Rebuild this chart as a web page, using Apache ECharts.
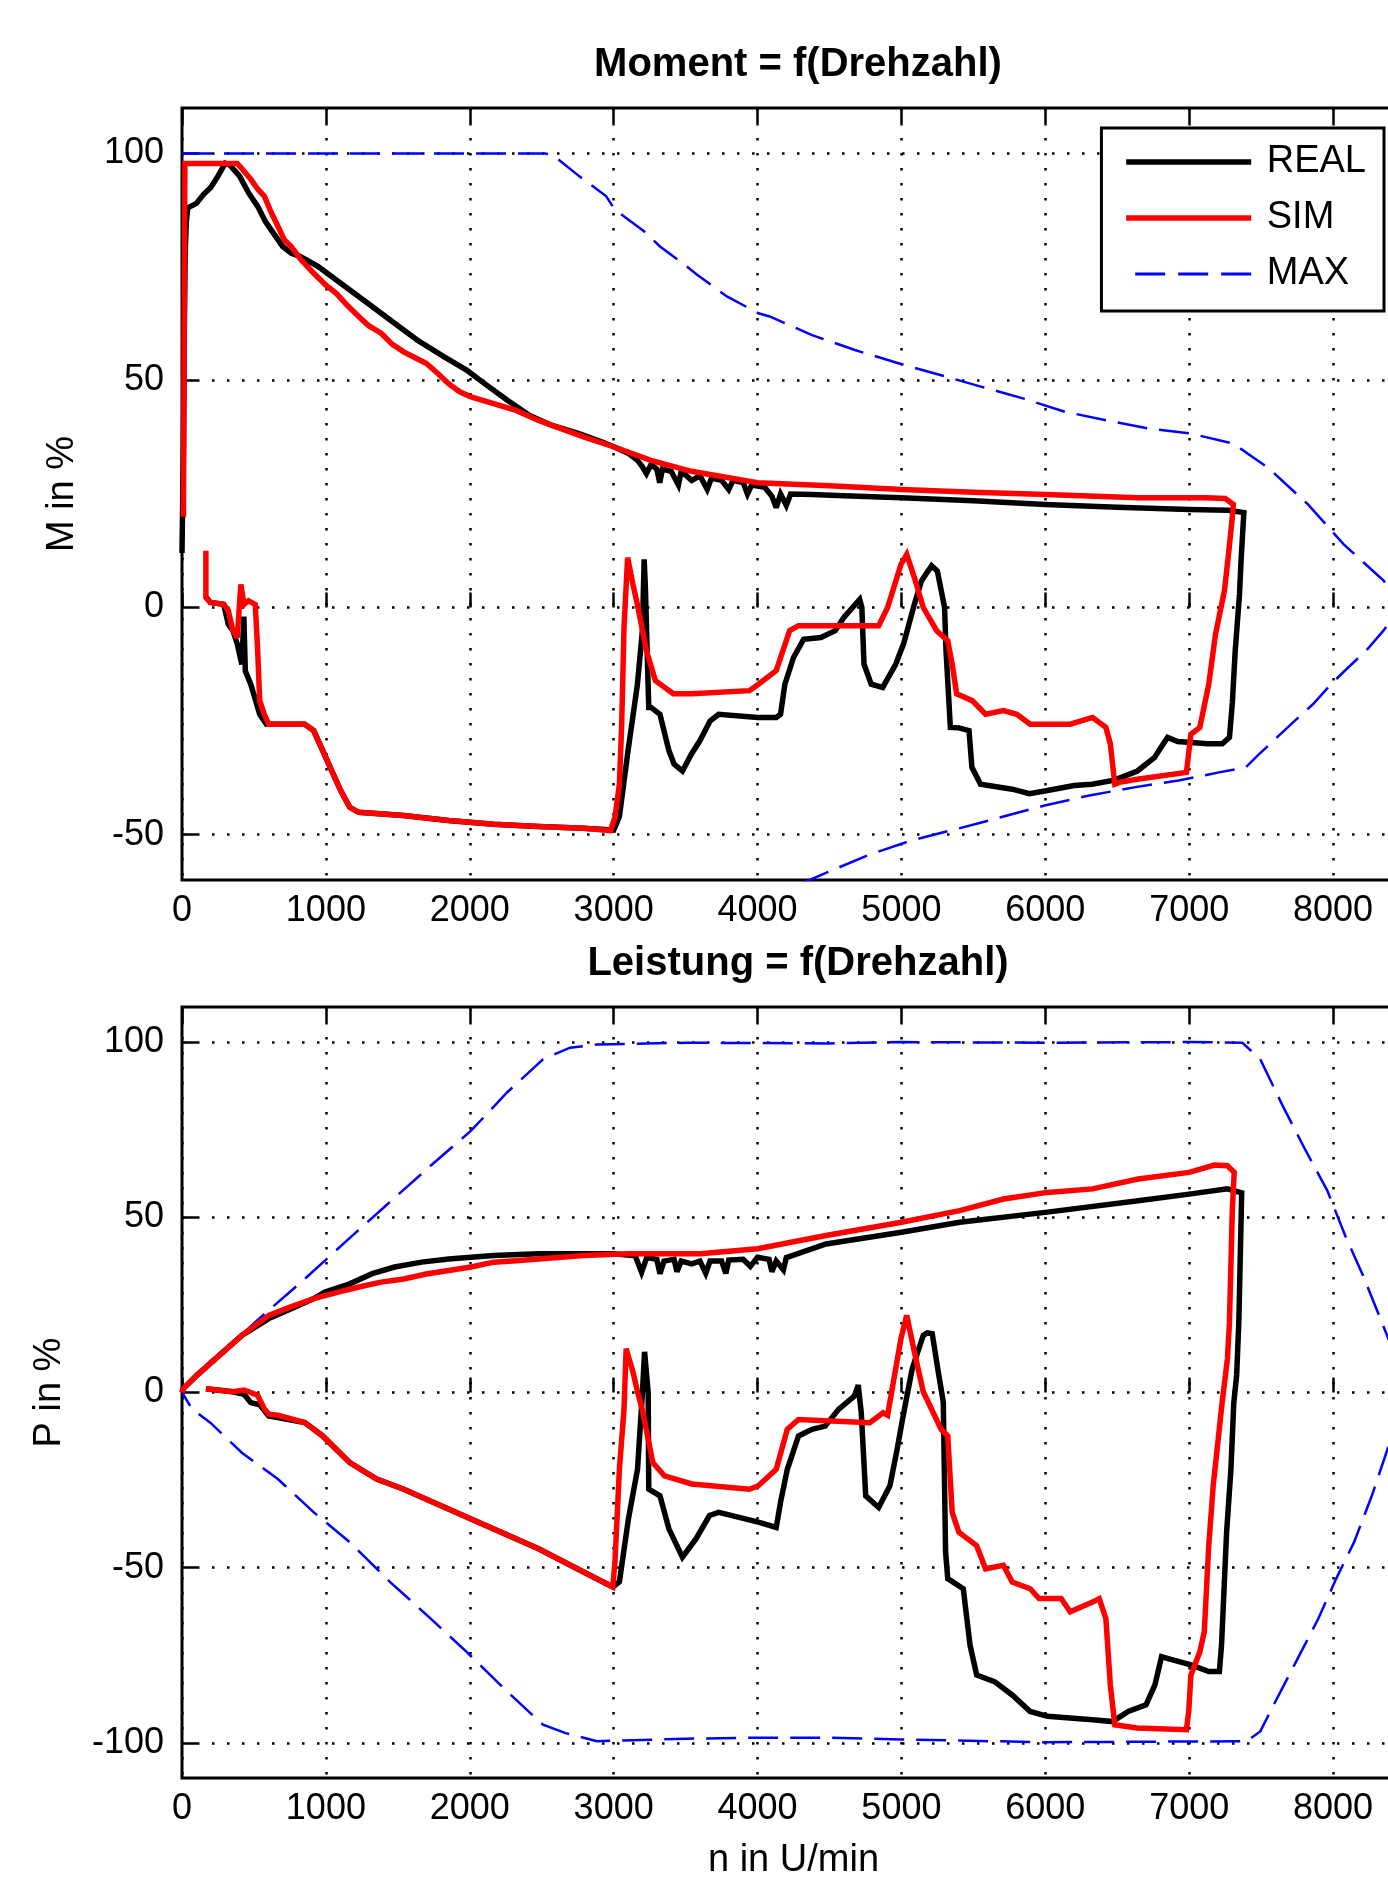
<!DOCTYPE html>
<html>
<head>
<meta charset="utf-8">
<script src="https://cdn.jsdelivr.net/npm/echarts@6/dist/echarts.min.js"></script>
<style>
html,body{margin:0;padding:0;background:#fff;overflow:hidden;}
#chart{width:1500px;height:1882px;}
</style>
</head>
<body>
<div id="chart"></div>
<script>
// ---- axis ticks / labels ----
const xTicks = [0, 1000, 2000, 3000, 4000, 5000, 6000, 7000, 8000];
const momentTicks = [-50, 0, 50, 100];
const powerTicks = [-100, -50, 0, 50, 100];
const seriesNames = ['REAL', 'SIM', 'MAX'];

// ---- Moment = f(Drehzahl) : [n, M%] ----
const momentReal = [[0,12],[10,35],[15,57],[22,78],[30,85],[40,88],[100,89],[150,91],[200,92.5],[250,95],[300,97.8],[330,97.5],[400,95],[463,91.3],[525,88.4],[580,85],[634,82.5],[700,79.5],[760,78],[822,77.3],[947,75.1],[1103,71.4],[1291,67.0],[1447,63.3],[1634,58.9],[1822,55.2],[1978,52.3],[2103,49.3],[2259,45.7],[2416,42.3],[2572,40.1],[2759,38.3],[2916,36.5],[3009,35.3],[3100,34],[3166,32.4],[3200,31],[3228,29.5],[3260,31.5],[3300,30.5],[3320,27.5],[3340,30.5],[3400,30],[3450,27],[3470,30],[3542,28],[3600,29],[3650,26],[3680,28.5],[3750,28],[3800,26],[3830,28],[3900,27.5],[3930,25],[3960,27],[4050,26.5],[4100,24.5],[4130,22],[4160,25],[4200,22.5],[4230,25],[4378,24.9],[4600,24.6],[5000,24.2],[5500,23.5],[6000,22.7],[6500,22.1],[7000,21.6],[7270,21.4],[7380,20.9],[7360,10],[7350,3],[7320,-9.5],[7300,-21],[7280,-28.6],[7230,-30],[7130,-30],[6920,-29.5],[6850,-28.6],[6800,-31],[6760,-33],[6640,-36],[6480,-38],[6325,-38.9],[6200,-39.2],[6015,-40.3],[5890,-41],[5770,-40],[5550,-38.9],[5490,-35.2],[5470,-27.1],[5400,-26.5],[5340,-26.4],[5320,-15],[5310,-9.5],[5300,0],[5250,8],[5210,9.2],[5140,5.9],[5090,0.7],[5015,-8],[4960,-12.5],[4870,-17.6],[4790,-16.9],[4740,-12.5],[4725,0],[4710,1.8],[4600,-2.2],[4540,-5.1],[4440,-6.6],[4320,-7],[4250,-11],[4190,-16.9],[4160,-23.5],[4130,-24.2],[4000,-24.2],[3730,-23.5],[3670,-25],[3600,-29.3],[3540,-32.3],[3478,-36],[3420,-34.5],[3384,-31.5],[3322,-23.5],[3260,-22],[3244,-22],[3220,5],[3212,10.6],[3200,-5],[3165,-17],[3100,-31.5],[3040,-46],[3000,-49],[2790,-48.6],[2478,-48.2],[2165,-47.7],[1853,-46.9],[1540,-45.8],[1228,-45.1],[1166,-44],[1103,-40.3],[1040,-35.9],[978,-31.5],[915,-27.1],[853,-25.7],[603,-25.7],[587,-25.7],[540,-23.5],[478,-16.9],[440,-14],[430,-2],[416,-12.5],[384,-8],[353,-5],[322,-3.7],[290,0.7],[197,1.1],[170,2.2]];

const momentSim = [[10,20],[15,60],[20,97.8],[100,97.8],[200,97.8],[300,97.8],[384,97.8],[420,96.5],[478,94.3],[530,92],[572,90.6],[620,87],[666,84],[710,81],[759,79.5],[830,76.5],[916,73.6],[1000,71],[1072,69.2],[1150,66.5],[1228,64.1],[1300,62],[1384,60.4],[1460,58],[1541,56.3],[1620,55],[1697,53.8],[1780,51.5],[1853,49.3],[1930,47.5],[2009,46.4],[2166,44.9],[2322,43.4],[2478,41.2],[2634,39.4],[2791,37.6],[3009,35.3],[3259,32.4],[3540,30],[4000,27.5],[4500,26.8],[5000,26],[5500,25.4],[6008,24.9],[6643,24.2],[7106,24.2],[7250,24],[7307,22.7],[7300,20],[7276,12.5],[7245,3.7],[7183,-5.9],[7136,-16.9],[7074,-26.4],[7012,-27.9],[6981,-36.3],[6638,-37.8],[6514,-38.5],[6483,-38.9],[6452,-30],[6421,-26.4],[6328,-24.2],[6173,-25.7],[5895,-25.7],[5802,-23.5],[5709,-22.7],[5585,-23.5],[5492,-20.5],[5384,-19],[5353,-12.5],[5322,-7.3],[5245,-5.1],[5152,0],[5090,6.6],[5037,11.7],[4997,9.5],[4904,0],[4842,-4],[4285,-4],[4223,-5.1],[4130,-13.9],[4006,-16.9],[3944,-18.3],[3542,-19],[3415,-19],[3290,-16.1],[3228,-9.5],[3165,0.7],[3134,5.1],[3097,11],[3072,-4.4],[3056,-25.7],[3040,-38.9],[3009,-46.2],[2978,-49.1],[2790,-48.6],[2478,-48.2],[2165,-47.7],[1853,-46.9],[1540,-45.8],[1228,-45.1],[1166,-44],[1103,-40.3],[1040,-35.9],[978,-31.5],[915,-27.1],[853,-25.7],[603,-25.7],[572,-23.5],[540,-20.5],[525,-8.8],[509,0.7],[462,1.5],[431,0.7],[409,5.1],[384,-6.6],[353,-5],[322,-0.7],[290,0.7],[197,1.1],[166,2.2],[166,12.5]];

const momentMax = [[0,100],[2525,100],[2587,99.4],[2760,95],[2947,90.6],[3009,87.6],[3213,82.8],[3322,79.5],[3509,75.1],[3580,73.3],[3787,68.5],[4006,64.8],[4084,64.1],[4379,60],[4677,56.7],[4979,53.8],[5270,51.2],[5558,48.6],[5850,46],[6138,43.1],[6430,41.2],[6718,39.4],[7013,38.3],[7306,36.1],[7548,30.8],[7826,22.7],[8074,13.9],[8353,5.9],[8470,0],[8350,-5.1],[8230,-9.5],[8105,-13.2],[7985,-16.9],[7860,-21.3],[7735,-24.9],[7610,-28.6],[7486,-32.3],[7393,-35.2],[7207,-36.3],[6926,-38.1],[6616,-39.6],[6305,-41.4],[5995,-43.6],[5690,-46.2],[5380,-48.8],[5068,-51.3],[4762,-54.6],[4375,-59.8],[4000,-64.8],[3500,-75],[3000,-87.6],[2587,-99.4],[2525,-100],[0,-100]];

// ---- Leistung = f(Drehzahl) : [n, P%] ----
const powerReal = [[0,0],[9,1.1],[103,4.9],[259,10.6],[416,16.3],[603,21.1],[759,23.9],[916,26.8],[994,28.7],[1166,31],[1322,33.9],[1478,35.8],[1666,37.2],[1853,38.1],[2009,38.6],[2166,39.1],[2478,39.6],[3000,39.6],[3150,39],[3194,34.3],[3230,38.5],[3300,38],[3322,33.9],[3350,37.5],[3420,38],[3440,34.5],[3470,37.5],[3542,36.7],[3600,37.5],[3640,34],[3670,37.5],[3750,37.5],[3780,34],[3800,37.8],[3900,38],[3950,36],[4000,38.6],[4080,38],[4100,34.5],[4130,37.5],[4180,35],[4200,38.5],[4476,42.4],[5000,45.7],[5405,48.6],[6000,51.4],[6645,54.7],[7000,56.6],[7266,58.1],[7365,57],[7345,20],[7330,5],[7310,-3],[7290,-22],[7260,-40],[7225,-72],[7210,-79.6],[7136,-79.6],[7012,-77.7],[6885,-76.3],[6808,-75.4],[6762,-83.4],[6700,-89.1],[6576,-91],[6467,-93.9],[6328,-93.4],[6015,-92.4],[5895,-91],[5770,-86.3],[5647,-82.5],[5523,-80.6],[5477,-72.1],[5430,-56],[5322,-53.1],[5307,-45.5],[5291,-2.7],[5260,4.9],[5214,16.8],[5180,17],[5152,16.3],[5075,6.8],[5012,-6.7],[4966,-17.1],[4920,-26.6],[4842,-32.8],[4752,-29.5],[4721,-5.8],[4700,2.1],[4673,-1],[4563,-4.8],[4470,-9.6],[4378,-10.5],[4285,-12.4],[4207,-21.9],[4160,-31.3],[4130,-38.5],[4006,-37],[3730,-34.2],[3666,-35.1],[3572,-41.8],[3478,-47],[3384,-38.9],[3322,-29.5],[3244,-27.6],[3240,0],[3215,11.6],[3200,0],[3166,-21.9],[3103,-36],[3040,-54],[2994,-55.5],[2791,-51.2],[2478,-44.6],[2009,-36.1],[1541,-27.6],[1353,-24.7],[1166,-20],[978,-12.4],[853,-8.6],[603,-6.7],[540,-3.5],[478,-2.9],[431,-0.5],[353,0.2],[166,1.1]];

const powerSim = [[0,0],[9,1.1],[103,4.9],[259,10.6],[416,16.3],[603,22],[760,24.5],[916,26.8],[1072,28.5],[1228,30.1],[1384,31.5],[1541,32.4],[1697,33.8],[1853,34.8],[2009,35.8],[2166,37.2],[2322,37.6],[2478,38.1],[2634,38.6],[2791,39.1],[3103,39.6],[3603,39.6],[4000,41],[4476,44.8],[5000,48.6],[5405,51.9],[5709,55.2],[6015,57.1],[6328,58.1],[6645,60.9],[7000,62.8],[7175,64.9],[7266,64.7],[7313,62.8],[7300,52.4],[7280,20],[7266,9.7],[7229,-2.9],[7167,-26.6],[7136,-43.7],[7105,-68.3],[7074,-74],[7012,-80.6],[6997,-91],[6981,-96.2],[6638,-95.7],[6483,-94.8],[6452,-83.4],[6421,-64.5],[6375,-58.8],[6328,-59.8],[6173,-62.6],[6110,-58.8],[5957,-58.8],[5895,-56],[5770,-54.1],[5709,-49.3],[5585,-50.3],[5523,-43.7],[5400,-39.9],[5353,-34.2],[5322,-12.4],[5276,-10.5],[5152,0.2],[5090,11.6],[5037,22],[4997,15.4],[4904,-6.5],[4873,-5.8],[4780,-8.6],[4285,-7.7],[4207,-10.5],[4130,-21.9],[4006,-26.6],[3944,-27.6],[3542,-26.1],[3353,-23.8],[3272,-20],[3200,-5],[3166,0.2],[3134,5.9],[3087,12.5],[3072,-4.8],[3040,-21.9],[3009,-48.4],[2994,-55.5],[2791,-51.2],[2478,-44.6],[2009,-36.1],[1541,-27.6],[1353,-24.7],[1166,-20],[978,-12.4],[853,-8.6],[666,-6.5],[603,-6.2],[572,-4.6],[525,-0.8],[431,0.7],[353,0.2],[166,1.1]];

const powerMax = [[0,0],[9,0.7],[259,10.6],[509,20.1],[853,32.4],[1134,42.9],[1416,53.3],[1728,64.7],[2009,74.7],[2259,85.6],[2509,95.1],[2697,98.4],[2884,99.3],[3500,99.8],[4500,99.6],[5000,100],[6000,99.8],[7000,100],[7370,99.8],[7494,95.1],[7650,81.8],[7805,69.4],[7960,57.6],[8084,44.8],[8208,33.4],[8394,14.4],[8490,0],[8394,-14.3],[8270,-29.4],[8146,-42.7],[8022,-53.1],[7898,-64.5],[7743,-76.8],[7588,-89.1],[7494,-96.7],[7401,-99.5],[6000,-99.8],[5000,-99],[4500,-98.5],[4000,-98.5],[3500,-98.8],[2884,-99.5],[2666,-97.2],[2509,-94.8],[2259,-85.3],[1978,-74],[1728,-64.5],[1447,-54.1],[1166,-42.7],[916,-34.2],[666,-24.7],[416,-17.2],[197,-8.6],[72,-4.8],[0,0]];

// ---- chart ----
const FONT = '"Liberation Sans", Arial, sans-serif';
const chart = echarts.init(document.getElementById('chart'), null, {renderer: 'canvas'});

const dotted = {color: '#000', width: 2.5, type: [2.5, 12.5]};
function xAxisDef(grid, bottom, name) {
  return {
    type: 'value', gridIndex: grid, position: bottom ? 'bottom' : 'top',
    min: 0, max: 8500, interval: 1000,
    axisLine: {show: false},
    axisTick: {show: true, inside: true, length: 15, lineStyle: {color: '#000', width: 2.5}},
    axisLabel: {show: bottom, color: '#000', fontFamily: FONT, fontSize: 36, margin: 13,
      formatter: v => xTicks.indexOf(v) >= 0 ? String(v) : ''},
    splitLine: {show: bottom, lineStyle: dotted},
    name: name || '', nameLocation: 'middle', nameGap: 64,
    nameTextStyle: {color: '#000', fontFamily: FONT, fontSize: 38}
  };
}
function yAxisDef(grid, min, max, ticks, name, gap) {
  return {
    type: 'value', gridIndex: grid, min: min, max: max,
    axisLine: {show: false},
    axisTick: {show: true, inside: true, length: 15, customValues: ticks, lineStyle: {color: '#000', width: 2.5}},
    axisLabel: {color: '#000', fontFamily: FONT, fontSize: 36, margin: 18, customValues: ticks},
    splitLine: {show: true, lineStyle: dotted},
    name: name, nameLocation: 'middle', nameRotate: 90, nameGap: gap,
    nameTextStyle: {color: '#000', fontFamily: FONT, fontSize: 38}
  };
}
function lineSeries(name, data, xi, yi, color, width, dashed) {
  return {
    name: name, type: 'line', data: data, xAxisIndex: xi, yAxisIndex: yi,
    showSymbol: false, symbol: 'none', clip: true, silent: true,
    lineStyle: {color: color, width: width, type: dashed ? [30, 12] : 'solid', join: 'miter', miterLimit: 3},
    itemStyle: {color: color},
    z: dashed ? 3 : (name === 'SIM' ? 4 : 2)
  };
}

const option = {
  animation: false,
  backgroundColor: '#fff',
  title: [
    {text: 'Moment = f(Drehzahl)', left: 793, top: 40, textAlign: 'center',
     textStyle: {fontFamily: FONT, fontWeight: 'bold', fontSize: 40, color: '#000'}},
    {text: 'Leistung = f(Drehzahl)', left: 793, top: 939, textAlign: 'center',
     textStyle: {fontFamily: FONT, fontWeight: 'bold', fontSize: 40, color: '#000'}}
  ],
  grid: [
    {left: 182, top: 108, width: 1223, height: 772, show: true, borderColor: '#000', borderWidth: 3, backgroundColor: 'transparent'},
    {left: 182, top: 1007, width: 1223, height: 771, show: true, borderColor: '#000', borderWidth: 3, backgroundColor: 'transparent'}
  ],
  legend: {
    show: true, orient: 'vertical', right: 1500 - 1384, top: 128,
    data: [
      {name: seriesNames[0], lineStyle: {color: '#000000', width: 5.5, type: 'solid'}},
      {name: seriesNames[1], lineStyle: {color: '#ff0000', width: 5.5, type: 'solid'}},
      {name: seriesNames[2], lineStyle: {color: '#0000ff', width: 3, type: [30, 13], dashOffset: -9}}
    ],
    itemWidth: 125, itemHeight: 40, itemGap: 16,
    padding: [14, 18, 17, 22],
    backgroundColor: '#fff', borderColor: '#000', borderWidth: 3, borderRadius: 0,
    formatter: n => ' ' + n,
    itemStyle: {opacity: 0, color: 'transparent', borderWidth: 0},
    textStyle: {color: '#000', fontFamily: FONT, fontSize: 38, lineHeight: 40},
    selectedMode: false
  },
  xAxis: [
    xAxisDef(0, true), xAxisDef(0, false),
    xAxisDef(1, true, 'n in U/min'), xAxisDef(1, false)
  ],
  yAxis: [
    yAxisDef(0, -60, 110, momentTicks, 'M in %', 100),
    yAxisDef(1, -110, 110, powerTicks, 'P in %', 113)
  ],
  series: [
    lineSeries('REAL', momentReal, 0, 0, '#000000', 5.5),
    lineSeries('SIM', momentSim, 0, 0, '#ff0000', 5.5),
    lineSeries('MAX', momentMax, 0, 0, '#0000ff', 2.5, true),
    lineSeries('REAL', powerReal, 2, 1, '#000000', 5.5),
    lineSeries('SIM', powerSim, 2, 1, '#ff0000', 5.5),
    lineSeries('MAX', powerMax, 2, 1, '#0000ff', 2.5, true)
  ]
};
chart.setOption(option);
</script>
</body>
</html>
